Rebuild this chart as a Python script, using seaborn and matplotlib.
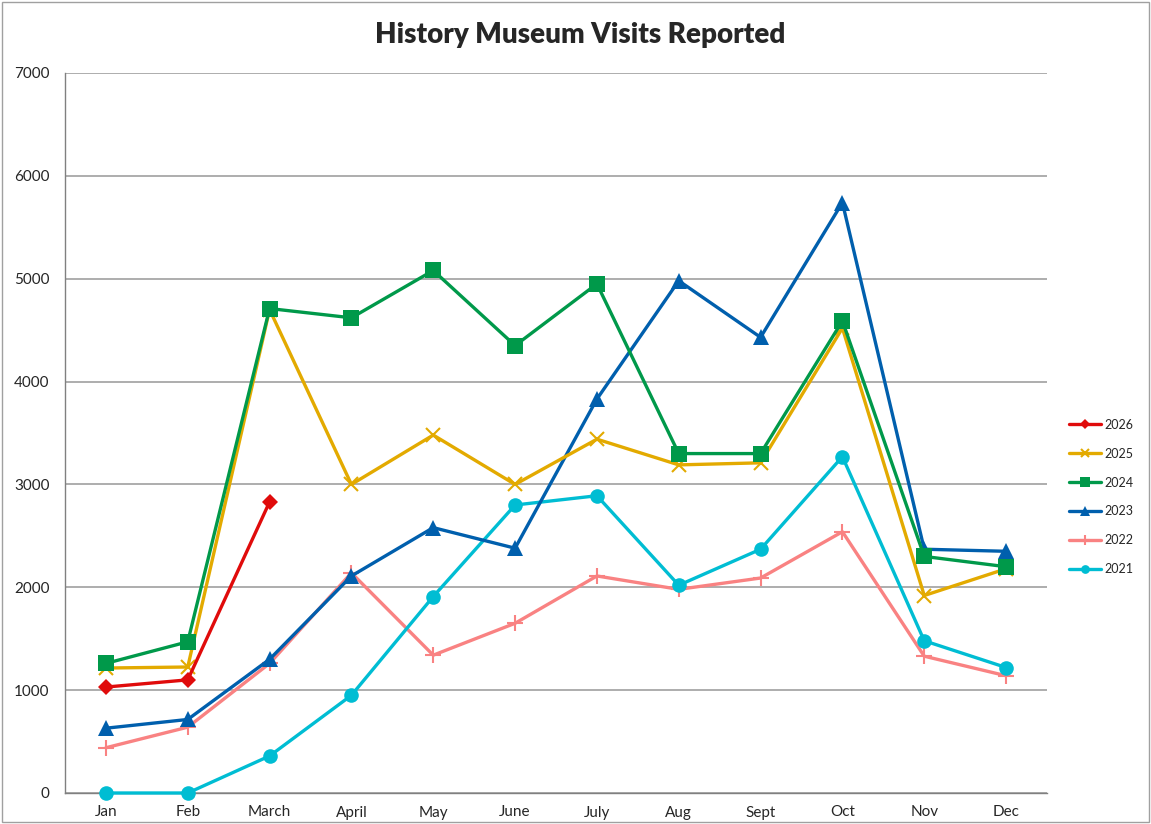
import matplotlib
matplotlib.use("Agg")
import matplotlib.pyplot as plt
import seaborn as sns
import pandas as pd
import numpy as np

months = ["Jan", "Feb", "March", "April", "May", "June", "July", "Aug", "Sept", "Oct", "Nov", "Dec"]
years = ["2026", "2025", "2024", "2023", "2022", "2021"]
v2026 = [1030, 1100, 2830]
v2025 = [1215, 1225, 4700, 3000, 3480, 3000, 3440, 3190, 3210, 4520, 1920, 2180]
v2024 = [1260, 1470, 4710, 4620, 5080, 4350, 4950, 3300, 3300, 4590, 2300, 2200]
v2023 = [630, 715, 1300, 2110, 2580, 2380, 3830, 4980, 4430, 5740, 2370, 2350]
v2022 = [440, 640, 1260, 2140, 1340, 1650, 2110, 1980, 2090, 2540, 1330, 1140]
v2021 = [0, 0, 360, 950, 1910, 2800, 2890, 2020, 2370, 3270, 1480, 1220]
y_ticks = [0, 1000, 2000, 3000, 4000, 5000, 6000, 7000]

series = {"2026": v2026, "2025": v2025, "2024": v2024, "2023": v2023, "2022": v2022, "2021": v2021}
rows = []
for yr, vals in series.items():
    for i, v in enumerate(vals):
        rows.append({"year": yr, "idx": i, "visits": v})
df = pd.DataFrame(rows)

colors = {"2026": "#E00B0B", "2025": "#E3AA00", "2024": "#00994A", "2023": "#005FAD",
          "2022": "#F98282", "2021": "#00BDD3"}
markers = {"2026": "D", "2025": "x", "2024": "s", "2023": "^", "2022": "+", "2021": "o"}
msizes = {"2026": 8, "2025": 10, "2024": 11, "2023": 11, "2022": 11, "2021": 10.5}
zorders = {"2026": 8, "2025": 6, "2024": 7, "2023": 5, "2022": 3, "2021": 4}

sns.set_style("white")
plt.rcParams['font.family'] = ['Lato', 'DejaVu Sans']

fig = plt.figure(figsize=(11.51, 8.24), dpi=100)
ax = fig.add_axes([65/1151, 1-793/824, (1047-65)/1151, (793-73)/824])

for yr in years:
    sub = df[df["year"] == yr]
    sns.lineplot(data=sub, x="idx", y="visits", ax=ax, color=colors[yr], linewidth=2.4,
                 marker=markers[yr], markersize=msizes[yr], markeredgewidth=1.5 if markers[yr] in "x+" else 0,
                 markeredgecolor=colors[yr], label=yr, zorder=zorders[yr], clip_on=False)

ax.set_xlim(-0.5, 11.5)
ax.set_ylim(0, 7000)
ax.set_yticks(y_ticks)
ax.set_yticklabels([str(t) for t in y_ticks], fontsize=11)
ax.set_xticks(range(12))
ax.set_xticklabels(months, fontsize=11)
ax.set_xticks(np.arange(-0.5, 12, 1), minor=True)
ax.tick_params(axis='x', which='major', length=0, pad=9)
ax.tick_params(axis='x', which='minor', length=5, color='#808080', direction='out')
ax.tick_params(axis='y', which='major', length=5, color='#808080', direction='out', pad=6)
ax.set_xlabel("")
ax.set_ylabel("")
ax.grid(axis='y', color='#A0A0A0', linewidth=1.2)
ax.set_axisbelow(True)
for s in ["top", "right"]:
    ax.spines[s].set_visible(False)
for s in ["left", "bottom"]:
    ax.spines[s].set_color('#808080')
    ax.spines[s].set_linewidth(1)

fig.suptitle("History Museum Visits Reported", x=580/1151, y=1-35/824, va='center',
             fontsize=20, fontweight='heavy')

handles, labels = ax.get_legend_handles_labels()
leg = ax.legend(handles, labels, loc='center left', bbox_to_anchor=(1058/1151, 1-497/824),
                bbox_transform=fig.transFigure, frameon=False, fontsize=9,
                handlelength=2.5, labelspacing=1.35, handletextpad=0.3, markerscale=0.6)

border = plt.Rectangle((0.002, 0.002), 0.996, 0.996, transform=fig.transFigure,
                       fill=False, edgecolor='#A0A0A0', linewidth=1)
fig.add_artist(border)

fig.savefig("out.png", dpi=100)
